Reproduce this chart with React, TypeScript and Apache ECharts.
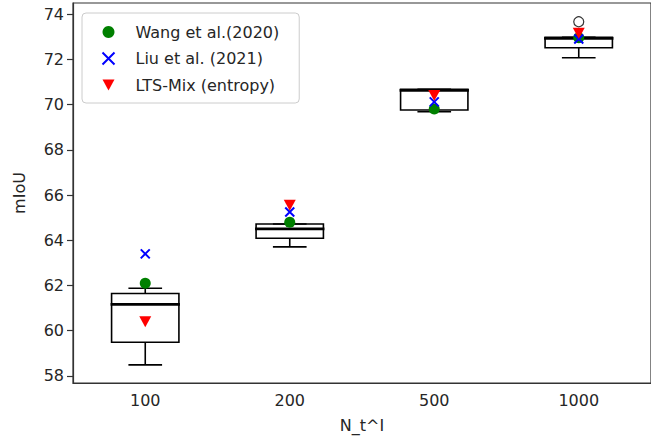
import React, { useEffect, useRef } from "react";
import * as echarts from "echarts";

const categories = ["100", "200", "500", "1000"];
// box statistics: lower whisker, Q1, median, Q3, upper whisker
const whiskerLow = [58.49, 63.71, 69.68, 72.07];
const quartile1 = [59.49, 64.09, 69.76, 72.51];
const medians = [61.17, 64.5, 70.63, 72.93];
const quartile3 = [61.65, 64.72, 70.67, 72.97];
const whiskerHigh = [61.88, 64.72, 70.67, 72.97];
const outliers: [number, number][] = [[3, 73.66]];
const wang2020 = [62.1, 64.8, 69.8, 72.95];
const liu2021 = [63.4, 65.25, 70.12, 72.9];
const ltsMix = [60.4, 65.55, 70.4, 73.15];
const yTicks = [58, 60, 62, 64, 66, 68, 70, 72, 74];

const FONT = "DejaVu Sans";
const TEXT = "#262626";

export default function App() {
  const ref = useRef<HTMLDivElement>(null);
  useEffect(() => {
    document.body.style.margin = "0";
    const chart = echarts.init(ref.current!, null, { renderer: "svg" });
    const boxData = categories.map((_, i) => [
      i,
      whiskerLow[i],
      quartile1[i],
      medians[i],
      quartile3[i],
      whiskerHigh[i],
    ]);
    const xPath = "path://M0,0L10,10M10,0L0,10";
    chart.setOption({
      animation: false,
      grid: {
        left: 73,
        top: 3,
        width: 582,
        height: 380,
        show: true,
        borderColor: "#333",
        borderWidth: 1.2,
        backgroundColor: "transparent",
      },
      legend: {
        orient: "vertical",
        left: 82,
        top: 13,
        padding: [11, 20, 10, 18],
        itemWidth: 12,
        itemHeight: 12,
        itemGap: 10,
        borderColor: "#cccccc",
        borderWidth: 1,
        borderRadius: 4,
        backgroundColor: "rgba(255,255,255,0.8)",
        textStyle: {
          fontFamily: FONT,
          fontSize: 16,
          color: TEXT,
          lineHeight: 14,
          padding: [0, 0, 0, 16],
        },
        data: ["Wang et al.(2020)", "Liu et al. (2021)", "LTS-Mix (entropy)"],
      },
      xAxis: {
        type: "category",
        data: categories,
        name: "N_t^I",
        nameLocation: "middle",
        nameGap: 34,
        nameTextStyle: { fontFamily: FONT, fontSize: 16, color: TEXT },
        axisLine: { lineStyle: { color: "#333", width: 1.2 } },
        axisTick: { alignWithLabel: true, length: 6, lineStyle: { color: "#333", width: 1.2 } },
        axisLabel: { fontFamily: FONT, fontSize: 16, color: TEXT, margin: 9 },
        splitLine: { show: false },
      },
      yAxis: {
        type: "value",
        min: 57.69,
        max: 74.49,
        name: "mIoU",
        nameLocation: "middle",
        nameGap: 46,
        nameTextStyle: { fontFamily: FONT, fontSize: 16, color: TEXT },
        axisLine: { show: true, lineStyle: { color: "#333", width: 1.2 } },
        axisTick: { show: true, length: 6, customValues: yTicks, lineStyle: { color: "#333", width: 1.2 } },
        axisLabel: { fontFamily: FONT, fontSize: 16, color: TEXT, margin: 9, customValues: yTicks },
        splitLine: { show: false },
      },
      series: [
        {
          type: "custom",
          name: "box",
          z: 1,
          data: boxData,
          encode: { x: 0, y: [1, 2, 3, 4, 5] },
          renderItem: (params: any, api: any) => {
            const x = api.value(0);
            const lo = api.coord([x, api.value(1)]);
            const q1 = api.coord([x, api.value(2)]);
            const md = api.coord([x, api.value(3)]);
            const q3 = api.coord([x, api.value(4)]);
            const hi = api.coord([x, api.value(5)]);
            const band = api.size([1, 0])[0];
            const half = band * 0.233;
            const cap = half / 2;
            const cx = lo[0];
            const st = { stroke: "#000", lineWidth: 1.6, fill: "none" };
            return {
              type: "group",
              children: [
                { type: "line", shape: { x1: cx, y1: q1[1], x2: cx, y2: lo[1] }, style: st },
                { type: "line", shape: { x1: cx, y1: q3[1], x2: cx, y2: hi[1] }, style: st },
                { type: "line", shape: { x1: cx - cap, y1: lo[1], x2: cx + cap, y2: lo[1] }, style: st },
                { type: "line", shape: { x1: cx - cap, y1: hi[1], x2: cx + cap, y2: hi[1] }, style: st },
                {
                  type: "rect",
                  shape: { x: cx - half, y: q3[1], width: half * 2, height: q1[1] - q3[1] },
                  style: st,
                },
                {
                  type: "line",
                  shape: { x1: cx - half - 1, y1: md[1], x2: cx + half + 1, y2: md[1] },
                  style: { stroke: "#000", lineWidth: 2.8 },
                },
              ],
            };
          },
        },
        {
          type: "scatter",
          name: "outlier",
          z: 2,
          symbol: "circle",
          symbolSize: 10,
          itemStyle: { color: "#ffffff", borderColor: "#333", borderWidth: 1.2, opacity: 1 },
          data: outliers,
        },
        {
          type: "scatter",
          name: "Wang et al.(2020)",
          z: 3,
          symbol: "circle",
          symbolSize: 11,
          itemStyle: { color: "#008000", opacity: 1 },
          data: wang2020.map((v, i) => [i, v]),
        },
        {
          type: "scatter",
          name: "Liu et al. (2021)",
          z: 4,
          symbol: xPath,
          symbolSize: 9,
          itemStyle: { color: "none", borderColor: "#0000ff", borderWidth: 2, opacity: 1 },
          data: liu2021.map((v, i) => [i, v]),
        },
        {
          type: "scatter",
          name: "LTS-Mix (entropy)",
          z: 5,
          symbol: "path://M0,0L10,0L5,9Z",
          symbolSize: [12, 11],
          itemStyle: { color: "#ff0000", opacity: 1 },
          data: ltsMix.map((v, i) => [i, v]),
        },
      ],
    });
    return () => chart.dispose();
  }, []);
  return <div ref={ref} style={{ width: 651, height: 445 }} />;
}
